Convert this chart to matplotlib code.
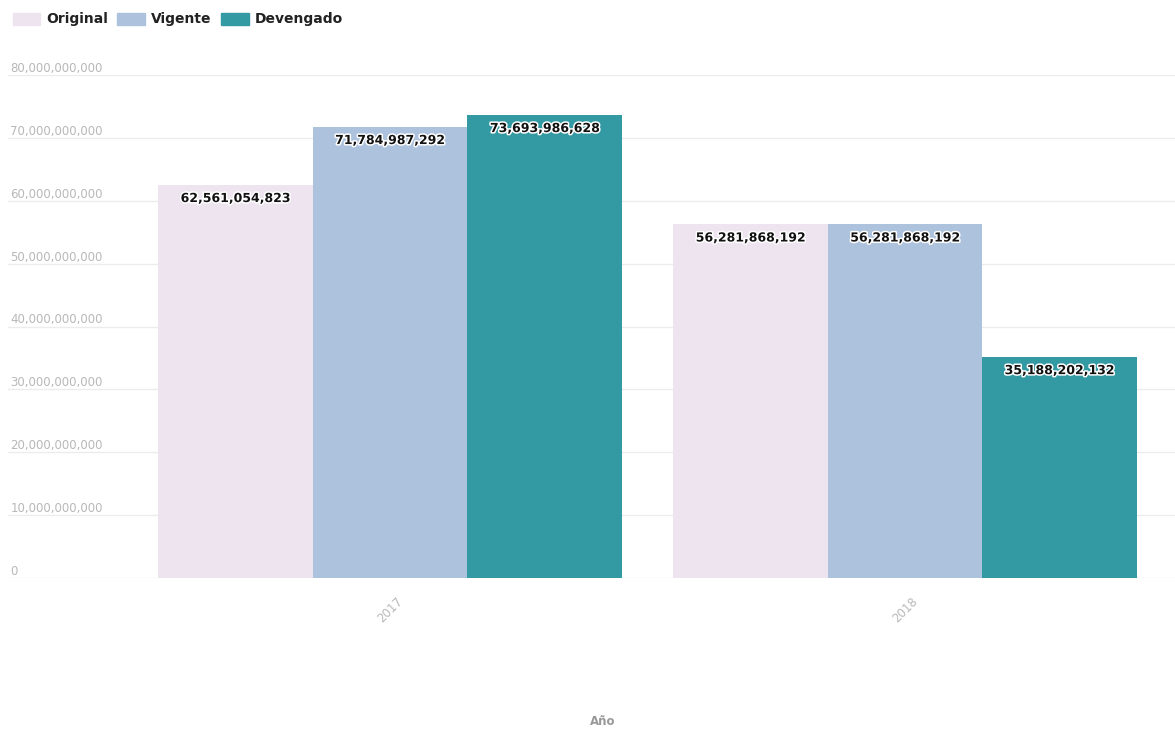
import matplotlib
matplotlib.use("Agg")
import matplotlib.pyplot as plt
import matplotlib.patches as mpatches
import matplotlib.patheffects as pe
import numpy as np

years = ["2017", "2018"]
series = ["Original", "Vigente", "Devengado"]
original = [62561054823, 56281868192]
vigente = [71784987292, 56281868192]
devengado = [73693986628, 35188202132]
colors = ["#ede4ef", "#adc2dd", "#3399a2"]
y_ticks = [0, 10e9, 20e9, 30e9, 40e9, 50e9, 60e9, 70e9, 80e9]

fig = plt.figure(figsize=(11.75, 7.34), dpi=100)
ax = fig.add_axes([8 / 1175, 156 / 734, 1167 / 1175, 503 / 734])

x = np.arange(len(years))
width = 0.3
for i, (name, vals) in enumerate(zip(series, [original, vigente, devengado])):
    pos = x + (i - 1) * width
    ax.bar(pos, vals, width=width, color=colors[i], label=name, zorder=2)
    for p, v in zip(pos, vals):
        ax.annotate(f"{v:,.0f}", (p, v), xytext=(0, -10), textcoords="offset points",
                    ha="center", va="center", fontsize=9, fontweight="bold", color="#111111",
                    path_effects=[pe.withStroke(linewidth=2.2, foreground="white")], zorder=3)

ax.set_xlim(-0.742, 1.524)
ax.set_ylim(0, 80e9)

# grid and labels
for t in y_ticks:
    ax.axhline(t, color="#ececec", linewidth=1, zorder=1)
    ax.text(0.002, t, f"{t:,.0f}", transform=ax.get_yaxis_transform(),
            ha="left", va="bottom", fontsize=8.5, color="#b8b8b8")

for s in ax.spines.values():
    s.set_visible(False)
ax.set_yticks([])
ax.set_xticks(x)
ax.set_xticklabels(years, rotation=45, color="#b8b8b8", fontsize=8.5)
ax.tick_params(axis="x", length=0, pad=12)
fig.text(603 / 1175, 6 / 734, "Año", ha="center", va="bottom",
         color="#999999", fontsize=8.5, fontweight="bold")

handles = [mpatches.FancyBboxPatch((0, 0), 1, 1, boxstyle="round,pad=0.1", color=c, label=n)
           for c, n in zip(colors, series)]
fig.legend(handles=handles, loc="upper left", bbox_to_anchor=(0.0, 1.0), ncol=3,
           frameon=False, handlelength=2.0, handleheight=1.0, handletextpad=0.4,
           columnspacing=0.7, prop={"weight": "bold", "size": 10}, labelcolor="#222222")

fig.savefig("out.png", dpi=100, facecolor="white")
